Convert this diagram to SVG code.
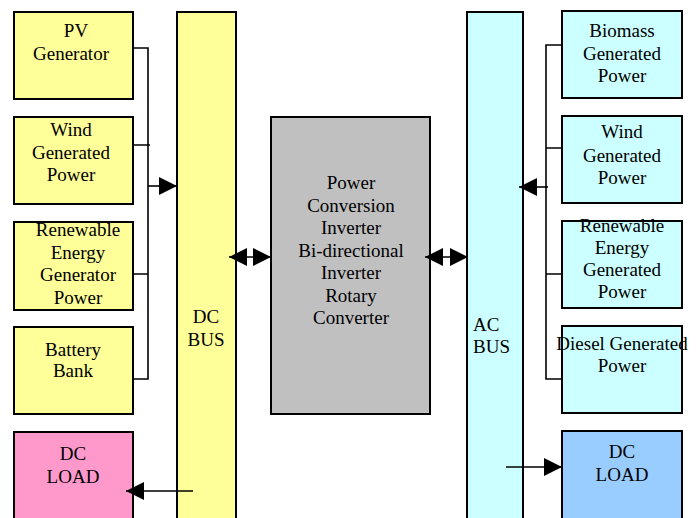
<svg xmlns="http://www.w3.org/2000/svg" width="696" height="518" viewBox="0 0 696 518">
<defs>
<style>
.box{stroke:#000;stroke-width:2}
.y{fill:#FFFF99}.c{fill:#CCFFFF}.p{fill:#FF99CC}.b{fill:#99CCFF}.g{fill:#C0C0C0}
text{font-family:"Liberation Serif","Times New Roman",serif;font-size:19px;fill:#000;text-anchor:middle}
.ln{stroke:#000;stroke-width:1.6;fill:none}
</style>
<marker id="ah" markerUnits="userSpaceOnUse" markerWidth="18" markerHeight="18" viewBox="0 0 18 18" refX="18" refY="9" orient="auto-start-reverse">
<path d="M0,0 L18,9 L0,18 Z" fill="#000"/>
</marker>
</defs>
<rect width="696" height="518" fill="#fff"/>

<g id="dc-bus"><rect class="box y" x="177" y="12" width="59" height="516"/><text x="206" y="323">DC</text><text x="206" y="346">BUS</text></g>
<g id="ac-bus"><rect class="box c" x="467" y="12" width="56" height="516"/><text x="473" y="331" style="text-anchor:start">AC</text><text x="473" y="353" style="text-anchor:start">BUS</text></g>

<g id="pv"><rect class="box y" x="14" y="12" width="119" height="87"/><text x="76" y="37">PV</text><text x="71" y="60">Generator</text></g>
<g id="wind-l"><rect class="box y" x="14" y="117" width="119" height="87"/><text x="71" y="136">Wind</text><text x="71" y="159">Generated</text><text x="71" y="181">Power</text></g>
<g id="ren-l"><rect class="box y" x="14" y="222" width="119" height="88"/><text x="78" y="236">Renewable</text><text x="78" y="259">Energy</text><text x="78" y="281">Generator</text><text x="78" y="304">Power</text></g>
<g id="battery"><rect class="box y" x="14" y="327" width="119" height="87"/><text x="73" y="356">Battery</text><text x="73" y="377">Bank</text></g>
<g id="dcload-l"><rect class="box p" x="14" y="432" width="119" height="96"/><text x="73" y="460">DC</text><text x="73" y="483">LOAD</text></g>

<g id="converter"><rect class="box g" x="271" y="117" width="159" height="297"/>
<text x="351" y="189">Power</text><text x="351" y="212">Conversion</text><text x="351" y="234">Inverter</text><text x="351" y="257">Bi-directional</text><text x="351" y="279">Inverter</text><text x="351" y="302">Rotary</text><text x="351" y="324">Converter</text></g>

<g id="biomass"><rect class="box c" x="562" y="11" width="120" height="87"/><text x="622" y="37">Biomass</text><text x="622" y="60">Generated</text><text x="622" y="82">Power</text></g>
<g id="wind-r"><rect class="box c" x="562" y="116" width="120" height="87"/><text x="622" y="138">Wind</text><text x="622" y="162">Generated</text><text x="622" y="184">Power</text></g>
<g id="ren-r"><rect class="box c" x="562" y="221" width="120" height="87"/><text x="622" y="232">Renewable</text><text x="622" y="254">Energy</text><text x="622" y="276">Generated</text><text x="622" y="298">Power</text></g>
<g id="diesel"><rect class="box c" x="562" y="326" width="120" height="87"/><text x="622" y="350">Diesel Generated</text><text x="622" y="372">Power</text></g>
<g id="dcload-r"><rect class="box b" x="562" y="431" width="120" height="97"/><text x="622" y="458">DC</text><text x="622" y="481">LOAD</text></g>

<g id="connectors">
<path class="ln" d="M133,48 H148 V379 H133 M133,145 H150 M133,274 H148"/>
<line class="ln" x1="148" y1="186" x2="177" y2="186" marker-end="url(#ah)"/>
<path class="ln" d="M562,45 H546 V379 H562 M562,148 H546 M562,274 H546"/>
<line class="ln" x1="548" y1="187" x2="519" y2="187" marker-end="url(#ah)"/>
<line class="ln" x1="193" y1="491" x2="126" y2="491" marker-end="url(#ah)"/>
<line class="ln" x1="506" y1="467" x2="562" y2="467" marker-end="url(#ah)"/>
<line class="ln" x1="229" y1="257" x2="271" y2="257" marker-start="url(#ah)" marker-end="url(#ah)"/>
<line class="ln" x1="425" y1="257" x2="468" y2="257" marker-start="url(#ah)" marker-end="url(#ah)"/>
</g>
</svg>
